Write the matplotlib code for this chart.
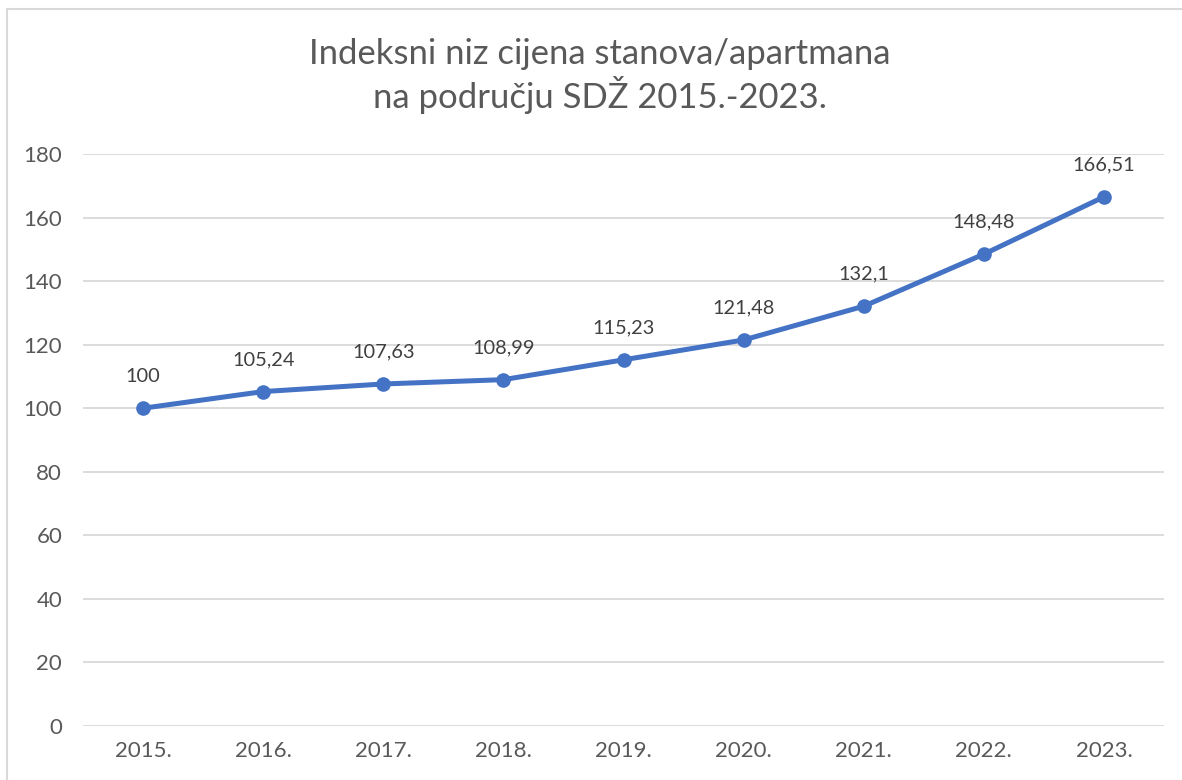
import matplotlib
matplotlib.use("Agg")
import matplotlib.pyplot as plt
from matplotlib.patches import Rectangle

years = ["2015.", "2016.", "2017.", "2018.", "2019.", "2020.", "2021.", "2022.", "2023."]
values = [100, 105.24, 107.63, 108.99, 115.23, 121.48, 132.1, 148.48, 166.51]
labels = ["100", "105,24", "107,63", "108,99", "115,23", "121,48", "132,1", "148,48", "166,51"]
title = "Indeksni niz cijena stanova/apartmana\nna području SDŽ 2015.-2023."

plt.rcParams['font.family'] = ['Lato', 'DejaVu Sans']

fig = plt.figure(figsize=(11.82, 7.80), dpi=100)
ax = fig.add_axes([83/1182, 1-726/780, (1164-83)/1182, (726-154)/780])

x = list(range(len(years)))
ax.plot(x, values, color="#4472C4", lw=3.6, marker="o", markersize=9.5,
        solid_capstyle="round", zorder=3)
for xi, v, lab in zip(x, values, labels):
    ax.annotate(lab, (xi, v), xytext=(0, 23), textcoords="offset points",
                ha="center", va="center", fontsize=14.4, color="#404040")

ax.set_xlim(-0.5, len(years) - 0.5)
ax.set_ylim(0, 180)
ax.set_yticks(range(0, 181, 20))
ax.set_xticks(x)
ax.set_xticklabels(years)
ax.grid(axis="y", color="#D9D9D9", lw=1.3)
ax.set_axisbelow(True)
for s in ax.spines.values():
    s.set_visible(False)
ax.tick_params(axis="both", length=0, labelsize=16, labelcolor="#595959")
ax.tick_params(axis="y", pad=15)
ax.tick_params(axis="x", pad=11)

fig.text(600/1182, 1-76/780, title, ha="center", va="center", fontsize=24.9,
         color="#595959", linespacing=1.21)

fig.patches.append(Rectangle((7/1182, -0.1), 1.2, 1-9/780+0.1, transform=fig.transFigure,
                             fill=False, edgecolor="#D9D9D9", lw=1.5))

fig.savefig("out.png", dpi=100)
